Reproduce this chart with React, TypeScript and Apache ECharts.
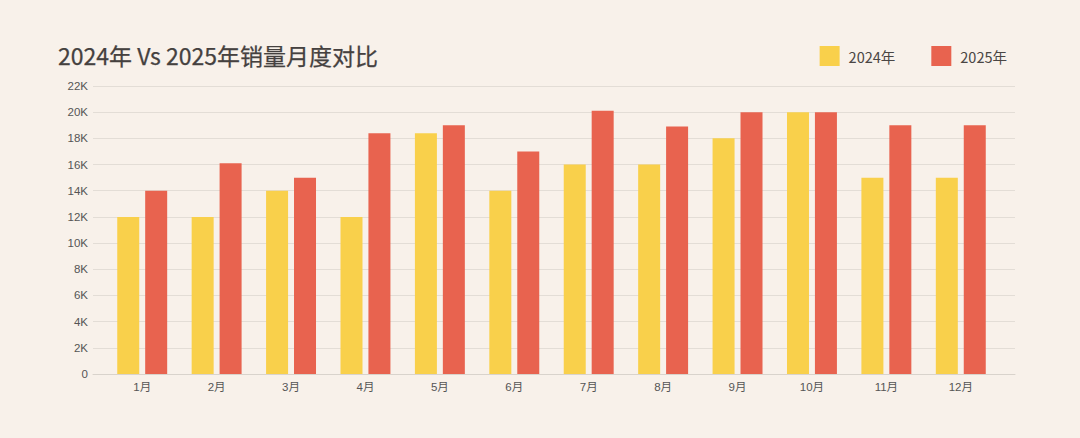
import React, { useEffect, useRef } from "react";
import * as echarts from "echarts";

const months = ["1月", "2月", "3月", "4月", "5月", "6月", "7月", "8月", "9月", "10月", "11月", "12月"];
const sales2024 = [12000, 12000, 14000, 12000, 18400, 14000, 16000, 16000, 18000, 20000, 15000, 15000];
const sales2025 = [14000, 16100, 15000, 18400, 19000, 17000, 20100, 18900, 20000, 20000, 19000, 19000];
const yMax = 22000;
const yStep = 2000;

const BG = "#F8F1EA";
const YELLOW = "#F9D04B";
const RED = "#E8634F";
const FONT = "'Noto Sans CJK SC', 'Noto Sans', sans-serif";
const AXIS_FONT = "'Liberation Sans', 'Noto Sans CJK SC', sans-serif";

export default function App() {
  const ref = useRef<HTMLDivElement>(null);
  useEffect(() => {
    document.body.style.margin = "0";
    const chart = echarts.init(ref.current!, undefined, { renderer: "svg" });
    const fmt = (v: number) => (v === 0 ? "0" : v / 1000 + "K");
    chart.setOption({
      animation: false,
      backgroundColor: BG,
      textStyle: { fontFamily: FONT },
      title: {
        text: "2024年 Vs 2025年销量月度对比",
        left: 58,
        top: 43,
        padding: 0,
        textStyle: {
          fontSize: 23,
          fontWeight: "normal",
          color: "#45413F",
          fontFamily: FONT,
          textBorderColor: "#45413F",
          textBorderWidth: 0.25,
        },
      },
      legend: {
        right: 68,
        top: 41,
        itemWidth: 20,
        itemHeight: 20,
        itemGap: 36,
        icon: "rect",
        textStyle: { fontSize: 14.5, color: "#4A4644", padding: [0, 0, 0, 4], fontFamily: FONT },
        data: ["2024年", "2025年"],
      },
      grid: [
        { left: 93, right: 65, top: 86, bottom: 64 },
        { left: 105, right: 82, top: 86, bottom: 64 },
      ],
      xAxis: [
        {
          type: "category",
          gridIndex: 0,
          data: months,
          axisLine: { show: true, lineStyle: { color: "#D9D3CC", width: 1 } },
          axisTick: { show: false },
          axisLabel: { show: false },
        },
        {
          type: "category",
          gridIndex: 1,
          data: months,
          axisLine: { show: false },
          axisTick: { show: false },
          axisLabel: { color: "#555", fontSize: 11.5, margin: 7, fontFamily: AXIS_FONT },
        },
      ],
      yAxis: [
        {
          type: "value",
          gridIndex: 0,
          min: 0,
          max: yMax,
          interval: yStep,
          axisLine: { show: false },
          axisTick: { show: false },
          axisLabel: { color: "#555", fontSize: 11.5, margin: 5, formatter: fmt, fontFamily: AXIS_FONT },
          splitLine: { lineStyle: { color: "#E3DDD6", width: 1 } },
        },
        {
          type: "value",
          gridIndex: 1,
          min: 0,
          max: yMax,
          interval: yStep,
          show: false,
          splitLine: { show: false },
        },
      ],
      series: [
        {
          name: "2024年",
          type: "bar",
          xAxisIndex: 1,
          yAxisIndex: 1,
          data: sales2024,
          barWidth: 22,
          barGap: "27%",
          itemStyle: { color: YELLOW },
        },
        {
          name: "2025年",
          type: "bar",
          xAxisIndex: 1,
          yAxisIndex: 1,
          data: sales2025,
          barWidth: 22,
          barGap: "27%",
          itemStyle: { color: RED },
        },
      ],
    });
    return () => chart.dispose();
  }, []);
  return <div ref={ref} style={{ width: 1080, height: 438 }} />;
}
